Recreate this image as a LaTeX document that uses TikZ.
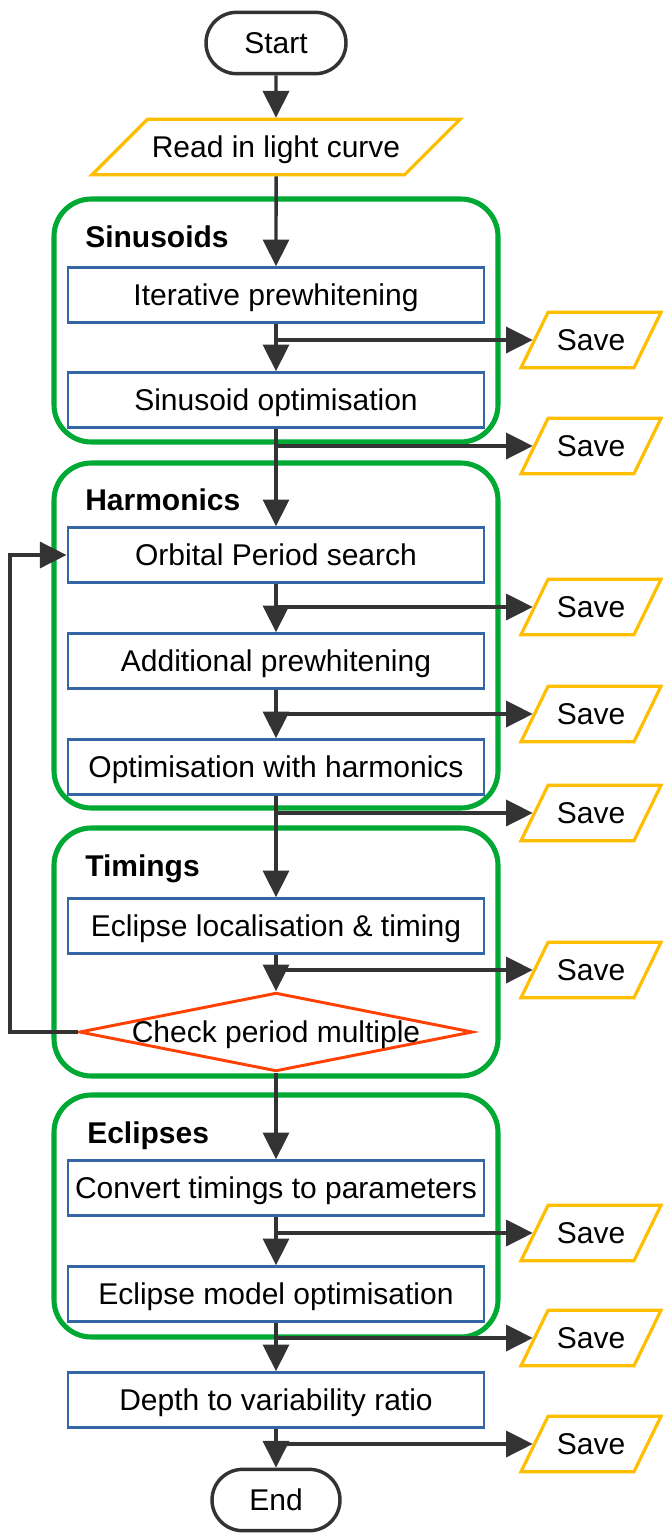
\documentclass[tikz,border=0pt]{standalone}
\usepackage{fontspec}
\setmainfont{Liberation Sans}
\usetikzlibrary{shapes.geometric,shapes.misc,arrows.meta}
\definecolor{boxblue}{HTML}{3465A4}
\definecolor{groupgreen}{HTML}{00A933}
\definecolor{iogold}{HTML}{FFBF00}
\definecolor{checkred}{HTML}{FF4000}
\definecolor{linegrey}{HTML}{333333}
\tikzset{>={Triangle[length=20pt,width=19.5pt]}}
\tikzset{%
  every node/.style={font=\fontsize{22.5}{27}\selectfont, text height=18.4pt, text depth=2.6pt},
  process/.style={draw=boxblue, line width=2.2pt, minimum width=312pt, minimum height=41pt, inner sep=0pt},
  terminal/.style={rounded rectangle, draw=linegrey, line width=2.6pt, minimum height=46pt, inner sep=0pt},
  io/.style={trapezium, trapezium stretches body, draw=iogold, line width=2.4pt, inner xsep=0pt, inner ysep=10.3pt},
  readbox/.style={trapezium left angle=45, trapezium right angle=135, minimum width=276pt},
  savebox/.style={trapezium left angle=64, trapezium right angle=116, minimum width=105pt},
  decision/.style={diamond, draw=checkred, line width=2.2pt, minimum width=295pt, minimum height=59pt, inner sep=0pt},
  group/.style={draw=groupgreen, line width=3.8pt, rounded corners=28pt},
  grouplabel/.style={anchor=west, inner sep=0pt, font=\fontsize{22.5}{27}\selectfont\bfseries},
  line/.style={draw=linegrey, line width=2.6pt}
}
\begin{document}
\begin{tikzpicture}[x=0.75pt, y=-0.75pt]
  \useasboundingbox (0,0) rectangle (662,1535);

  % stage frames with their titles
  \draw[group] (54,199) rectangle (498,442);
  \draw[group] (54,463) rectangle (498,808);
  \draw[group] (54,828) rectangle (498,1076);
  \draw[group] (54,1095) rectangle (498,1337);
  \node[grouplabel] (gsin) at (85,237) {Sinusoids};
  \node[grouplabel] (ghar) at (85,500) {Harmonics};
  \node[grouplabel] (gtim) at (85,866) {Timings};
  \node[grouplabel] (gecl) at (87,1133) {Eclipses};

  % main chain
  \node[terminal, minimum width=105pt] (start) at (276,43) {Start};
  \node[io, readbox] (read) at (276,147) {Read in light curve};
  \node[process] (iter) at (276,295) {Iterative prewhitening};
  \node[process] (sopt) at (276,400) {Sinusoid optimisation};
  \node[process] (orb) at (276,555) {Orbital Period search};
  \node[process] (add) at (276,661) {Additional prewhitening};
  \node[process] (hopt) at (276,767) {Optimisation with harmonics};
  \node[process] (ecl) at (276,926) {Eclipse localisation \& timing};
  \node[decision] (chk) at (276,1032) {\makebox[0pt]{Check period multiple}};
  \node[process] (conv) at (276,1188) {Convert timings to parameters};
  \node[process] (emod) at (276,1294) {Eclipse model optimisation};
  \node[process] (depth) at (276,1400) {Depth to variability ratio};
  \node[terminal, minimum width=96pt] (end) at (276,1500) {End};

  % save outputs
  \foreach \name/\y in {s1/340, s2/446, s3/607, s4/714, s5/813, s6/970, s7/1233, s8/1338, s9/1444}
    \node[io, savebox] (\name) at (591,\y) {Save};

  % connectors
  \foreach \a/\b in {start/read, read/iter, iter/sopt, sopt/orb, orb/add, add/hopt, hopt/ecl, ecl/chk, chk/conv, conv/emod, emod/depth, depth/end}
    \draw[line, ->] (\a) -- (\b);
  \foreach \a/\s in {iter/s1, sopt/s2, orb/s3, add/s4, hopt/s5, ecl/s6, conv/s7, emod/s8, depth/s9}
    \draw[line, ->] (\a.south |- \s.west) -- (\s.west);

  % back to the period search
  \draw[line, ->] (chk.west) -- ++(-68,0) |- (orb.west);

\end{tikzpicture}
\end{document}
